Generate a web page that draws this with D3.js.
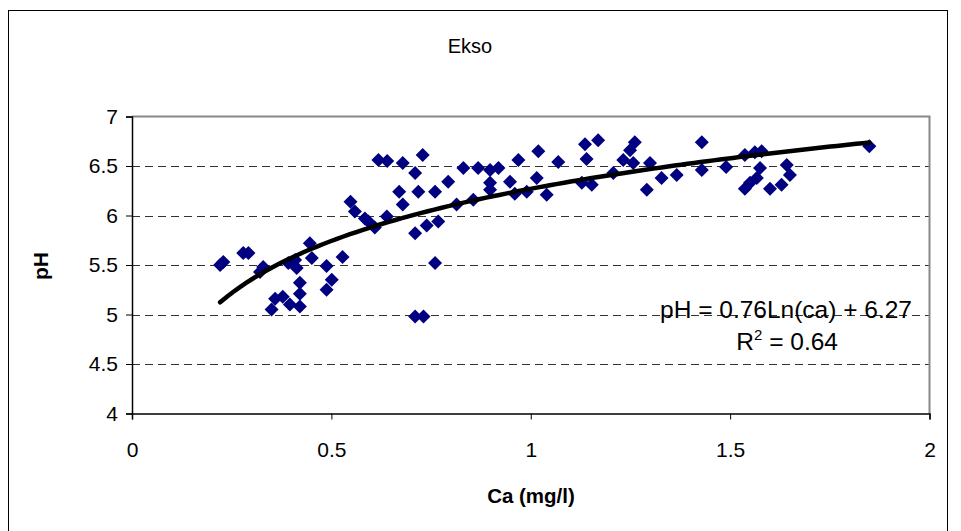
<!DOCTYPE html>
<html><head><meta charset="utf-8">
<script src="https://cdn.jsdelivr.net/npm/d3@7"></script>
<style>body{margin:0;background:#fff}svg{display:block}text{font-family:"Liberation Sans",Arial,sans-serif}</style>
</head><body>
<script>
const caValues = [0.221,0.229,0.279,0.292,0.321,0.329,0.350,0.359,0.378,0.396,0.421,0.421,0.421,0.392,0.413,0.409,0.446,0.451,0.488,0.501,0.488,0.528,0.548,0.559,0.584,0.593,0.609,0.639,0.618,0.640,0.670,0.679,0.679,0.710,0.729,0.718,0.760,0.710,0.739,0.768,0.760,0.710,0.731,0.793,
0.831,0.814,0.856,0.868,0.898,0.919,0.898,0.898,0.948,0.960,0.990,0.969,1.015,1.040,1.019,1.069,1.128,1.153,1.136,1.169,1.140,1.207,1.232,1.249,1.261,1.257,1.291,1.299,1.328,1.366,1.429,1.429,1.490,1.537,1.562,1.579,1.575,1.567,1.550,1.537,1.600,1.629,1.642,1.650,1.849];
const phValues = [5.50,5.53,5.62,5.62,5.43,5.48,5.05,5.16,5.18,5.10,5.08,5.21,5.32,5.52,5.47,5.55,5.72,5.57,5.49,5.35,5.25,5.58,6.14,6.04,5.97,5.94,5.88,5.99,6.56,6.55,6.24,6.11,6.53,6.43,6.61,6.24,6.24,5.82,5.90,5.94,5.52,4.98,4.98,6.34,
6.48,6.11,6.16,6.48,6.46,6.48,6.33,6.26,6.34,6.22,6.24,6.56,6.38,6.21,6.65,6.54,6.33,6.31,6.72,6.76,6.57,6.43,6.56,6.66,6.74,6.53,6.26,6.53,6.38,6.41,6.74,6.46,6.49,6.61,6.64,6.65,6.48,6.38,6.33,6.27,6.27,6.31,6.51,6.41,6.70];
const xTicks = [0,0.5,1,1.5,2];
const yTicks = [4,4.5,5,5.5,6,6.5,7];
const trendA = 0.76, trendB = 6.27, trendMin = 0.221, trendMax = 1.849;
const title = "Ekso", xTitle = "Ca (mg/l)", yTitle = "pH";

const W = 961, H = 531;
const svg = d3.select("body").append("svg").attr("width", W).attr("height", H);
svg.append("rect").attr("x",8.5).attr("y",10.5).attr("width",939).attr("height",540)
  .attr("fill","#fff").attr("stroke","#000").attr("stroke-width",1);

const L = 132, R = 929.5, T = 116.5, B = 413.5;
const x = d3.scaleLinear().domain([0,2]).range([L,R]);
const y = d3.scaleLinear().domain([4,7]).range([B,T]);

// grid
svg.append("g").selectAll("line").data(yTicks.filter(v=>v>4 && v<7)).join("line")
  .attr("x1",L).attr("x2",R).attr("y1",d=>Math.round(y(d))+0.5).attr("y2",d=>Math.round(y(d))+0.5)
  .attr("stroke","#333").attr("stroke-width",1).attr("stroke-dasharray","8,5");
// plot border (top/right gray)
svg.append("path").attr("d",`M${L},${T}H${R}V${B}`).attr("fill","none").attr("stroke","#888").attr("stroke-width",2);

const fmt = d => String(d);
const yAxis = svg.append("g").attr("transform",`translate(${L},0)`)
  .call(d3.axisLeft(y).tickValues(yTicks).tickFormat(fmt).tickSizeOuter(0).tickSize(6).tickPadding(8));
const xAxis = svg.append("g").attr("transform",`translate(0,${B})`)
  .call(d3.axisBottom(x).tickValues(xTicks).tickFormat(fmt).tickSizeOuter(0).tickSize(6).tickPadding(23));
[yAxis,xAxis].forEach(g=>{
  g.selectAll("path.domain").attr("stroke","#000").attr("stroke-width",1.5);
  g.selectAll(".tick line").attr("stroke","#000");
  g.selectAll("text").attr("font-size",21).attr("fill","#000").attr("font-family",'"Liberation Sans",Arial,sans-serif');
});

// points (square-on-corner diamonds)
const diamond = { draw(ctx, size){ const r = Math.sqrt(size/2); ctx.moveTo(0,-r); ctx.lineTo(r,0); ctx.lineTo(0,r); ctx.lineTo(-r,0); ctx.closePath(); } };
const sym = d3.symbol().type(diamond).size(98);
svg.append("g").selectAll("path").data(caValues.map((c,i)=>[c,phValues[i]])).join("path")
  .attr("d",sym).attr("transform",d=>`translate(${x(d[0])},${y(d[1])})`)
  .attr("fill","#000080");

// trend line
const tx = d3.range(0,101).map(i=>trendMin + (trendMax-trendMin)*i/100);
svg.append("path").datum(tx).attr("fill","none").attr("stroke","#000").attr("stroke-width",4.5)
  .attr("stroke-linecap","round")
  .attr("d", d3.line().x(d=>x(d)).y(d=>y(trendA*Math.log(d)+trendB)));

// texts
svg.append("text").attr("x",470).attr("y",53).attr("text-anchor","middle").attr("font-size",20).text(title);
svg.append("text").attr("x",531).attr("y",503).attr("text-anchor","middle").attr("font-size",20.5).attr("font-weight","bold").text(xTitle);
svg.append("text").attr("transform","translate(48,266) rotate(-90)").attr("text-anchor","middle").attr("font-size",21).attr("font-weight","bold").text(yTitle);
svg.append("text").attr("x",912).attr("y",318).attr("text-anchor","end").attr("font-size",24.5)
  .text(`pH = ${trendA}Ln(ca) + ${trendB}`);
const r2 = svg.append("text").attr("x",838).attr("y",350).attr("text-anchor","end").attr("font-size",24.5);
r2.append("tspan").text("R");
r2.append("tspan").attr("dy",-10).attr("font-size",15).text("2");
r2.append("tspan").attr("dy",10).text(" = 0.64");
</script>
</body></html>
